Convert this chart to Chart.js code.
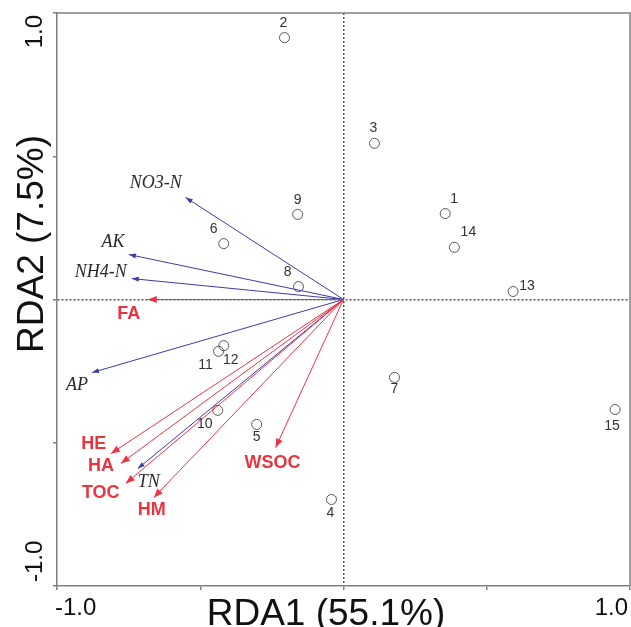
<!DOCTYPE html>
<html>
<head>
<meta charset="utf-8">
<script src="https://cdn.jsdelivr.net/npm/chart.js@4.4.1/dist/chart.umd.min.js"></script>
<style>
  html, body { margin: 0; padding: 0; background: #fff; }
</style>
</head>
<body>
<canvas id="rdaChart" width="631" height="627"></canvas>
<script>
// site scores
const siteIds = ['1', '2', '3', '4', '5', '6', '7', '8', '9', '10', '11', '12', '13', '14', '15']
const siteRDA1 = [0.355, -0.206, 0.108, -0.042, -0.303, -0.418, 0.178, -0.157, -0.160, -0.439, -0.436, -0.418, 0.592, 0.387, 0.948]
const siteRDA2 = [0.300, 0.914, 0.545, -0.698, -0.436, 0.195, -0.272, 0.045, 0.297, -0.387, -0.181, -0.161, 0.028, 0.182, -0.384]

// soil nutrient arrows (blue)
const envNames = ['NO3-N', 'AK', 'NH4-N', 'AP', 'TN']
const envRDA1 = [-0.551, -0.749, -0.739, -0.878, -0.718]
const envRDA2 = [0.356, 0.157, 0.073, -0.255, -0.590]

// humus fraction arrows (red)
const humNames = ['FA', 'HE', 'HA', 'TOC', 'HM', 'WSOC']
const humRDA1 = [-0.683, -0.812, -0.777, -0.760, -0.662, -0.237]
const humRDA2 = [0.000, -0.538, -0.572, -0.642, -0.691, -0.517]

const axisTicks = [-1, -0.5, 0, 0.5, 1]

const BLUE = '#3c3ca6'
const RED = '#ee3347'
const RED_TEXT = '#e8353f'

// label nudges in px, relative to arrow tip / circle centre
const labelNudge = {
  'NO3-N': [-30, -14], 'AK': [-16, -12], 'NH4-N': [-31, -6], 'AP': [-15, 13], 'TN': [11, 14],
  'FA': [-19, 15], 'HE': [-17, -10], 'HA': [-20, 3], 'TOC': [-25, 10], 'HM': [-2, 13], 'WSOC': [-3, 15]
}
const siteNudge = [[9, -14], [-1, -14], [-1, -15], [-1, 14], [0, 13], [-10, -14], [0, 12], [-11, -14],
  [0, -14], [-13, 14], [-13, 14], [7, 15], [14, -5], [14, -15], [-3, 17]]

const arrowSet = (names, xs, ys, color, kind) =>
  names.map((name, i) => ({
    label: name,
    kind: kind,
    data: [{ x: 0, y: 0 }, { x: xs[i], y: ys[i] }],
    showLine: true,
    borderColor: color,
    borderWidth: 1,
    pointRadius: 0
  }))

const sitePoints = {
  label: 'sites',
  kind: 'site',
  data: siteIds.map((id, i) => ({ x: siteRDA1[i], y: siteRDA2[i] })),
  pointStyle: 'circle',
  pointRadius: 5,
  borderColor: '#555',
  borderWidth: 1,
  backgroundColor: 'rgba(0,0,0,0)'
}

const overlay = {
  id: 'overlay',
  beforeDatasetsDraw(chart) {
    const { ctx, chartArea: a } = chart
    ctx.save()
    ctx.strokeStyle = '#808080'
    ctx.lineWidth = 1.5
    ctx.beginPath()
    ctx.moveTo(a.left, a.top)
    ctx.lineTo(a.right, a.top)
    ctx.lineTo(a.right, a.bottom)
    ctx.stroke()
    ctx.restore()
  },
  afterDatasetsDraw(chart) {
    const ctx = chart.ctx
    chart.data.datasets.forEach((ds, i) => {
      const pts = chart.getDatasetMeta(i).data
      ctx.save()
      if (ds.kind === 'site') {
        ctx.fillStyle = '#333'
        ctx.font = '14px "Liberation Sans", Arial, sans-serif'
        ctx.textAlign = 'center'
        ctx.textBaseline = 'middle'
        pts.forEach((p, j) => {
          ctx.fillText(siteIds[j], p.x + siteNudge[j][0], p.y + siteNudge[j][1])
        })
      } else {
        const x0 = pts[0].x, y0 = pts[0].y, x1 = pts[1].x, y1 = pts[1].y
        const ang = Math.atan2(y1 - y0, x1 - x0)
        const len = ds.kind === 'hum' ? 9 : 7
        const half = ds.kind === 'hum' ? 3.5 : 2.5
        ctx.save()
        ctx.translate(x1, y1)
        ctx.rotate(ang)
        ctx.beginPath()
        ctx.moveTo(0, 0)
        ctx.lineTo(-len, -half)
        ctx.lineTo(-len, half)
        ctx.closePath()
        ctx.fillStyle = ds.borderColor
        ctx.fill()
        ctx.restore()

        const n = labelNudge[ds.label]
        ctx.textAlign = 'center'
        ctx.textBaseline = 'middle'
        if (ds.kind === 'hum') {
          ctx.fillStyle = RED_TEXT
          ctx.font = 'bold 18px "Liberation Sans", Arial, sans-serif'
        } else {
          ctx.fillStyle = '#2a2a2a'
          ctx.font = 'italic 18px "Liberation Serif", "Times New Roman", serif'
        }
        ctx.fillText(ds.label, x1 + n[0], y1 + n[1])
      }
      ctx.restore()
    })
  },
  afterDraw(chart) {
    const { ctx, chartArea: a } = chart
    ctx.save()
    ctx.fillStyle = '#111'
    ctx.textBaseline = 'alphabetic'

    // tick labels, pushed inward at the ends like the original
    ctx.font = '24px "Liberation Sans", Arial, sans-serif'
    ctx.textAlign = 'left'
    ctx.fillText('-1.0', a.left - 2, 615)
    ctx.textAlign = 'right'
    ctx.fillText('1.0', a.right - 2, 615)

    ctx.save()
    ctx.translate(42, a.top + 2)
    ctx.rotate(-Math.PI / 2)
    ctx.textAlign = 'right'
    ctx.fillText('1.0', 0, 0)
    ctx.restore()

    ctx.save()
    ctx.translate(42, a.bottom - 4)
    ctx.rotate(-Math.PI / 2)
    ctx.textAlign = 'left'
    ctx.fillText('-1.0', 0, 0)
    ctx.restore()

    // axis titles
    ctx.font = '37px "Liberation Sans", Arial, sans-serif'
    ctx.textAlign = 'center'
    ctx.fillText('RDA1 (55.1%)', 326, 625)

    ctx.save()
    ctx.translate(43, 244)
    ctx.rotate(-Math.PI / 2)
    ctx.fillText('RDA2 (7.5%)', 0, 0)
    ctx.restore()
    ctx.restore()
  }
}

const zeroGrid = (c) => (c.tick && c.tick.value === 0 ? '#555' : 'rgba(0,0,0,0)')

const axis = (w, h) => ({
  type: 'linear',
  min: -1,
  max: 1,
  afterBuildTicks: (s) => { s.ticks = axisTicks.map(v => ({ value: v })) },
  afterFit: (s) => {
    if (w) s.width = w
    if (h) s.height = h
    s.paddingLeft = 0
    s.paddingRight = 0
    s.paddingTop = 0
    s.paddingBottom = 0
  },
  ticks: { callback: () => '' },
  grid: { color: zeroGrid, lineWidth: 1.5, tickLength: 4, tickColor: '#808080', tickWidth: 1.5 },
  border: { color: '#808080', width: 1.5, dash: [2, 2] }
})

new Chart(document.getElementById('rdaChart'), {
  type: 'scatter',
  data: {
    datasets: [
      ...arrowSet(humNames, humRDA1, humRDA2, RED, 'hum'),
      ...arrowSet(envNames, envRDA1, envRDA2, BLUE, 'env'),
      sitePoints
    ]
  },
  options: {
    responsive: false,
    animation: false,
    layout: { autoPadding: false, padding: { top: 13, right: 1, left: 0, bottom: 0 } },
    plugins: { legend: { display: false }, tooltip: { enabled: false } },
    scales: {
      x: axis(0, 41),
      y: axis(57, 0)
    }
  },
  plugins: [overlay]
})
</script>
</body>
</html>
